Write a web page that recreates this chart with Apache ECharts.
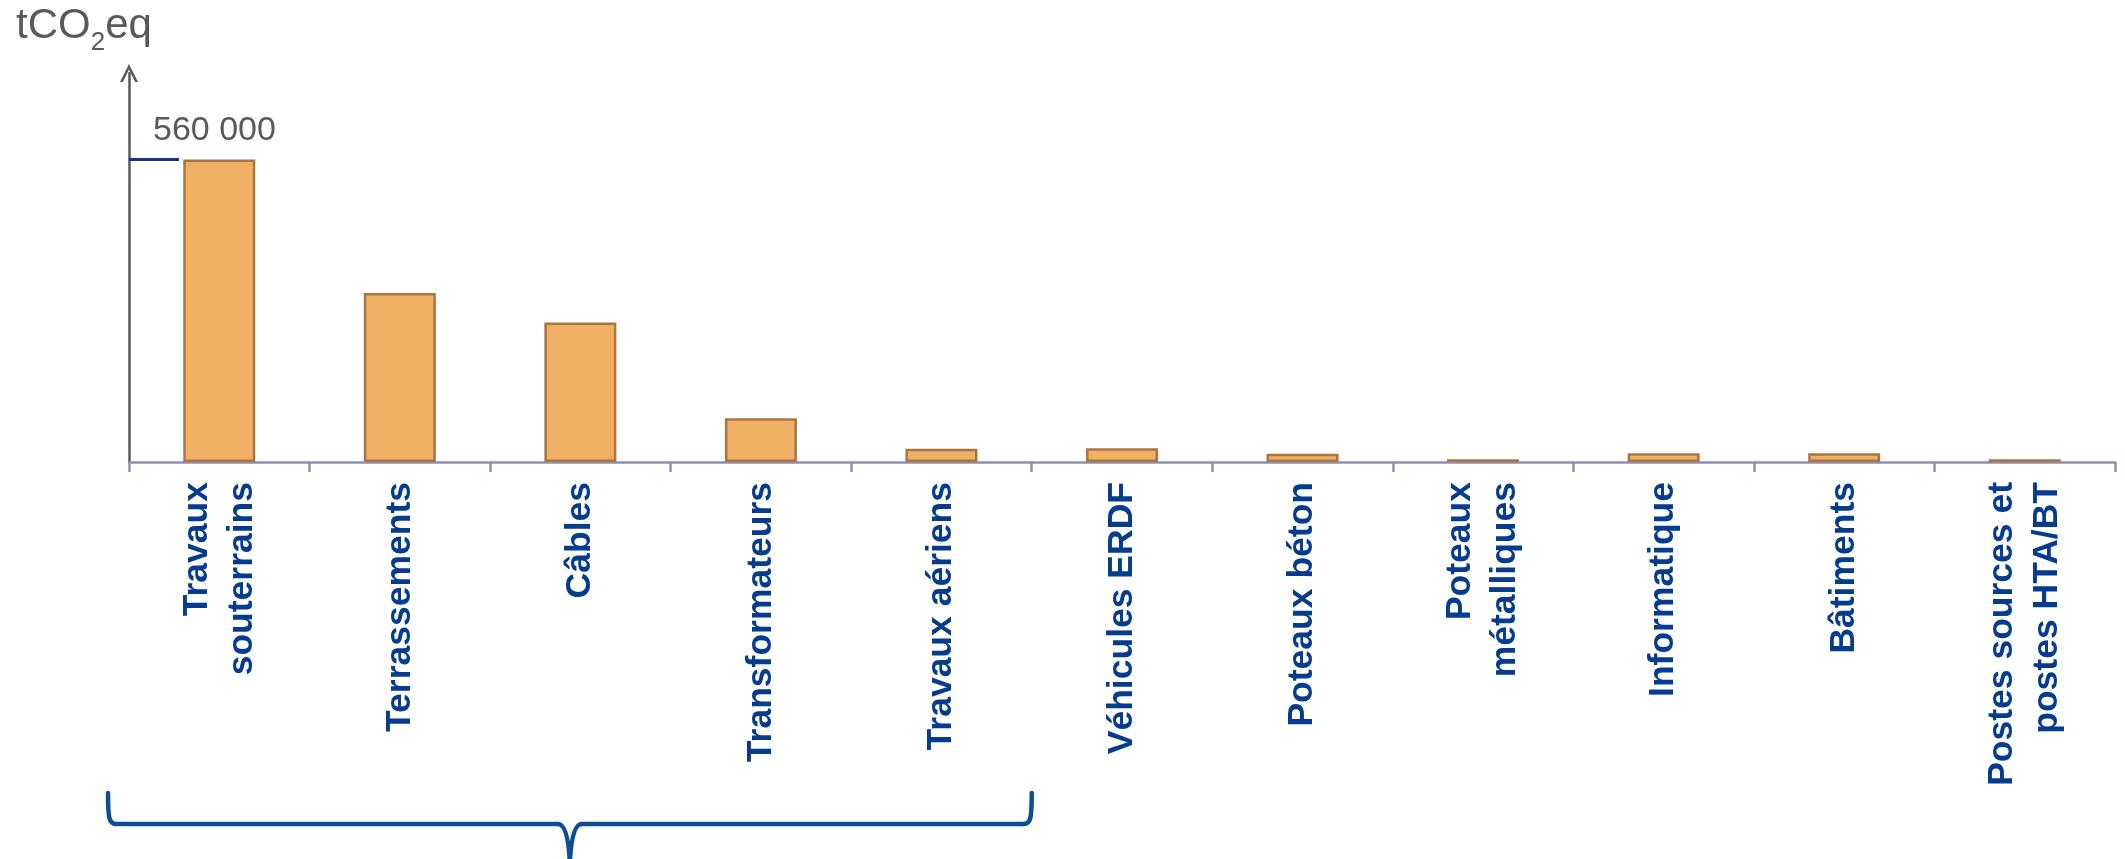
<!DOCTYPE html>
<html>
<head>
<meta charset="utf-8">
<script src="https://cdn.jsdelivr.net/npm/echarts@6/dist/echarts.min.js"></script>
<style>
html,body{margin:0;padding:0;background:#fff;}
#chart{width:2125px;height:859px;}
</style>
</head>
<body>
<div id="chart"></div>
<script>
// Categories (x axis)
var categories = [
  'Travaux\nsouterrains',
  'Terrassements',
  'Câbles',
  'Transformateurs',
  'Travaux aériens',
  'Véhicules ERDF',
  'Poteaux béton',
  'Poteaux\nmétalliques',
  'Informatique',
  'Bâtiments',
  'Postes sources et\npostes HTA/BT'
];
// Emissions in tCO2eq
var emissions = [560000, 313000, 258000, 81000, 24500, 25500, 15500, 5000, 16000, 16000, 5000];
// Y axis unit
var unitParts = ['tCO', '2', 'eq'];
// Highlighted value on the y axis
var markedValues = [560000];

function fmt(v) {
  return String(Math.round(v)).replace(/\B(?=(\d{3})+(?!\d))/g, ' ');
}

var chart = echarts.init(document.getElementById('chart'), null, {renderer: 'canvas'});

var FONT = 'Liberation Sans, Arial, sans-serif';

var option = {
  backgroundColor: '#ffffff',
  animation: false,
  title: {
    text: '{a|' + unitParts[0] + '}{b|' + unitParts[1] + '}{a|' + unitParts[2] + '}',
    left: 16,
    top: -4,
    padding: 0,
    textStyle: {
      fontWeight: 'normal',
      rich: {
        a: {fontSize: 42, fontWeight: 'normal', color: '#595959', fontFamily: FONT, lineHeight: 60, verticalAlign: 'middle'},
        b: {fontSize: 26, fontWeight: 'normal', color: '#595959', fontFamily: FONT, lineHeight: 26, verticalAlign: 'bottom'}
      }
    }
  },
  grid: {left: 129, right: 10, top: 73, bottom: 397, containLabel: false, outerBoundsMode: 'none'},
  xAxis: {
    type: 'category',
    data: categories,
    axisLine: {show: true, lineStyle: {color: '#8b90b8', width: 2.5}},
    axisTick: {show: true, length: 10, lineStyle: {color: '#8b90b8', width: 2.5}},
    axisLabel: {
      interval: 0,
      rotate: 90,
      margin: 20,
      fontSize: 35.5,
      fontWeight: 'bold',
      fontFamily: FONT,
      color: '#063c8d',
      lineHeight: 45
    },
    splitLine: {show: false}
  },
  yAxis: {
    type: 'value',
    min: 0,
    max: 720000,
    splitLine: {show: false},
    axisLine: {
      show: true,
      lineStyle: {color: '#595959', width: 2.5},
      symbol: ['none', 'path://M0,10 L5,0 L10,10 L8.4,10 L5,3.1 L1.6,10 Z'],
      symbolSize: [22, 18]
    },
    axisTick: {
      show: true,
      inside: true,
      length: 50,
      customValues: markedValues,
      lineStyle: {color: '#0d3a8c', width: 3}
    },
    axisLabel: {
      show: true,
      inside: true,
      customValues: markedValues,
      margin: 24,
      fontSize: 34,
      color: '#595959',
      fontFamily: FONT,
      verticalAlign: 'bottom',
      padding: [0, 0, 12, 0],
      formatter: function (v) { return fmt(v); }
    }
  },
  series: [{
    type: 'bar',
    data: emissions,
    barWidth: 72,
    itemStyle: {color: '#efb066', borderColor: '#a97540', borderWidth: 2.5}
  }]
};

chart.setOption(option);

// Brace under the first five categories (annotation)
var c0 = chart.convertToPixel({xAxisIndex: 0}, 0);
var c1 = chart.convertToPixel({xAxisIndex: 0}, 1);
var c4 = chart.convertToPixel({xAxisIndex: 0}, 4);
var band = c1 - c0;
var xl = c0 - band / 2 - 21;
var xr = c4 + band / 2;
var xc = (xl + xr) / 2;
var y0 = 793, y1 = 824, y2 = 862;
var braceStyle = {stroke: '#0a4f95', lineWidth: 4.5, fill: 'none', lineCap: 'round'};
chart.setOption({
  graphic: [
    {type: 'bezierCurve', silent: true, style: braceStyle,
      shape: {x1: xl, y1: y0, cpx1: xl, cpy1: y1 - 6, cpx2: xl + 1, cpy2: y1, x2: xl + 8, y2: y1}},
    {type: 'line', silent: true, style: braceStyle,
      shape: {x1: xl + 8, y1: y1, x2: xc - 12, y2: y1}},
    {type: 'bezierCurve', silent: true, style: braceStyle,
      shape: {x1: xc - 12, y1: y1, cpx1: xc - 2, cpy1: y1, x2: xc, y2: y2}},
    {type: 'bezierCurve', silent: true, style: braceStyle,
      shape: {x1: xc, y1: y2, cpx1: xc + 2, cpy1: y1, x2: xc + 12, y2: y1}},
    {type: 'line', silent: true, style: braceStyle,
      shape: {x1: xc + 12, y1: y1, x2: xr - 8, y2: y1}},
    {type: 'bezierCurve', silent: true, style: braceStyle,
      shape: {x1: xr - 8, y1: y1, cpx1: xr - 1, cpy1: y1, cpx2: xr, cpy2: y1 - 6, x2: xr, y2: y0}}
  ]
});
</script>
</body>
</html>
